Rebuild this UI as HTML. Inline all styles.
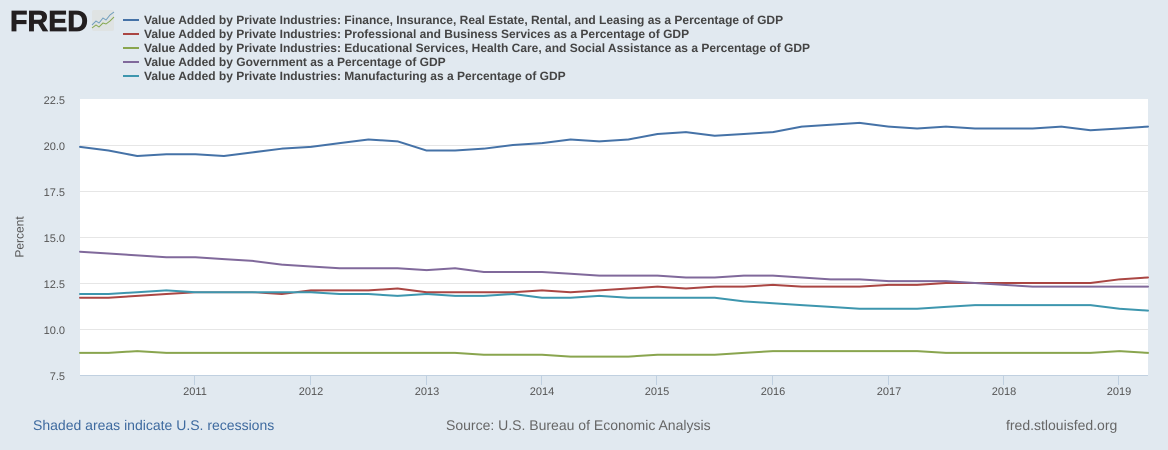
<!DOCTYPE html>
<html lang="en">
<head>
<meta charset="utf-8">
<title>FRED chart</title>
<style>
html,body{margin:0;padding:0;width:1168px;height:450px;overflow:hidden;background:#e1e9f0}
svg{display:block;font-family:"Liberation Sans",Arial,sans-serif;text-rendering:geometricPrecision}
</style>
</head>
<body>
<svg id="chart" xmlns="http://www.w3.org/2000/svg" width="1168" height="450" viewBox="0 0 1168 450">
  <rect x="0" y="0" width="1168" height="450" fill="#e1e9f0"/>
  <rect x="80" y="99" width="1068" height="277" fill="#ffffff"/>
  <g id="grid"></g>
  <g id="yticks"></g>
  <g id="xticks"></g>
  <g id="series"></g>

  <g>
    <text x="10" y="31" font-size="29" font-weight="700" fill="#231f20" stroke="#231f20" stroke-width="0.8" textLength="78" lengthAdjust="spacingAndGlyphs">FRED</text>
    <rect x="92" y="10" width="22" height="21" rx="2" fill="#dfe3e3"/>
    <polyline points="92,25 96,21 99,23 103,18 106,20 110,15 114,12" fill="none" stroke="#6f9dbd" stroke-width="1"/>
    <polyline points="92,28 96,25 99,27 103,23 106,24 110,21 114,17" fill="none" stroke="#86a851" stroke-width="1"/>
  </g>

  <g font-size="12" font-weight="700" fill="#444444">
    <g>
      <line x1="123" x2="139" y1="20" y2="20" stroke="#4572a7" stroke-width="2"/>
      <text x="144" y="24">Value Added by Private Industries: Finance, Insurance, Real Estate, Rental, and Leasing as a Percentage of GDP</text>
    </g>
    <g>
      <line x1="123" x2="139" y1="34" y2="34" stroke="#aa4643" stroke-width="2"/>
      <text x="144" y="38">Value Added by Private Industries: Professional and Business Services as a Percentage of GDP</text>
    </g>
    <g>
      <line x1="123" x2="139" y1="48" y2="48" stroke="#89a54e" stroke-width="2"/>
      <text x="144" y="52">Value Added by Private Industries: Educational Services, Health Care, and Social Assistance as a Percentage of GDP</text>
    </g>
    <g>
      <line x1="123" x2="139" y1="62" y2="62" stroke="#80699b" stroke-width="2"/>
      <text x="144" y="66">Value Added by Government as a Percentage of GDP</text>
    </g>
    <g>
      <line x1="123" x2="139" y1="76" y2="76" stroke="#3d96ae" stroke-width="2"/>
      <text x="144" y="80">Value Added by Private Industries: Manufacturing as a Percentage of GDP</text>
    </g>
  </g>

  <text transform="translate(23.5,237) rotate(-90)" text-anchor="middle" font-size="12" fill="#555555">Percent</text>
  <text x="33" y="430" font-size="14" fill="#3e6a9f">Shaded areas indicate U.S. recessions</text>
  <text x="446" y="430" font-size="14" fill="#666666">Source: U.S. Bureau of Economic Analysis</text>
  <text x="1006" y="430" font-size="14" fill="#666666">fred.stlouisfed.org</text>
</svg>
<script>
const startYear = 2010;
const quarterCount = 38;
const yTickValues = [7.5, 10, 12.5, 15, 17.5, 20, 22.5];
const yTickLabels = ["7.5", "10.0", "12.5", "15.0", "17.5", "20.0", "22.5"];
const xTickYears = [2011, 2012, 2013, 2014, 2015, 2016, 2017, 2018, 2019];

const financeValues = [19.9,19.7,19.4,19.5,19.5,19.4,19.6,19.8,19.9,20.1,20.3,20.2,19.7,19.7,19.8,20.0,20.1,20.3,20.2,20.3,20.6,20.7,20.5,20.6,20.7,21.0,21.1,21.2,21.0,20.9,21.0,20.9,20.9,20.9,21.0,20.8,20.9,21.0];
const professionalValues = [11.7,11.7,11.8,11.9,12.0,12.0,12.0,11.9,12.1,12.1,12.1,12.2,12.0,12.0,12.0,12.0,12.1,12.0,12.1,12.2,12.3,12.2,12.3,12.3,12.4,12.3,12.3,12.3,12.4,12.4,12.5,12.5,12.5,12.5,12.5,12.5,12.7,12.8];
const educationValues = [8.7,8.7,8.8,8.7,8.7,8.7,8.7,8.7,8.7,8.7,8.7,8.7,8.7,8.7,8.6,8.6,8.6,8.5,8.5,8.5,8.6,8.6,8.6,8.7,8.8,8.8,8.8,8.8,8.8,8.8,8.7,8.7,8.7,8.7,8.7,8.7,8.8,8.7];
const governmentValues = [14.2,14.1,14.0,13.9,13.9,13.8,13.7,13.5,13.4,13.3,13.3,13.3,13.2,13.3,13.1,13.1,13.1,13.0,12.9,12.9,12.9,12.8,12.8,12.9,12.9,12.8,12.7,12.7,12.6,12.6,12.6,12.5,12.4,12.3,12.3,12.3,12.3,12.3];
const manufacturingValues = [11.9,11.9,12.0,12.1,12.0,12.0,12.0,12.0,12.0,11.9,11.9,11.8,11.9,11.8,11.8,11.9,11.7,11.7,11.8,11.7,11.7,11.7,11.7,11.5,11.4,11.3,11.2,11.1,11.1,11.1,11.2,11.3,11.3,11.3,11.3,11.3,11.1,11.0];

const SVGNS = "http://www.w3.org/2000/svg";
const PLOT = { left: 80, right: 1148, y75: 375, y225: 99 };
const T0 = Date.UTC(startYear, 0, 1);
const T1 = Date.UTC(startYear, (quarterCount - 1) * 3, 1);

function xOfDate(ms) {
  return PLOT.left + (ms - T0) / (T1 - T0) * (PLOT.right - PLOT.left);
}
function xOfQuarter(i) {
  return xOfDate(Date.UTC(startYear, i * 3, 1));
}
function yOfValue(v) {
  return PLOT.y75 + (v - 7.5) / 15 * (PLOT.y225 - PLOT.y75);
}
function make(tag, attrs) {
  const el = document.createElementNS(SVGNS, tag);
  for (const k in attrs) el.setAttribute(k, attrs[k]);
  return el;
}

const gridGroup = document.getElementById("grid");
const yGroup = document.getElementById("yticks");
const xGroup = document.getElementById("xticks");
const seriesGroup = document.getElementById("series");

yTickValues.forEach(function (v, i) {
  const y = yOfValue(v);
  if (i > 0 && i < yTickValues.length - 1) {
    const line = make("line", { x1: PLOT.left, x2: PLOT.right, y1: y + 0.5, y2: y + 0.5, stroke: "#e6e6e6", "stroke-width": 1 });
    
    
    gridGroup.appendChild(line);
  }
  const label = make("text", { x: 65, y: y + 5, "text-anchor": "end", "font-size": 11, fill: "#555555" });
  
  
  label.textContent = yTickLabels[i];
  yGroup.appendChild(label);
});

const axisLine = make("line", { x1: PLOT.left, x2: PLOT.right, y1: 375.5, y2: 375.5, stroke: "#c0d0e0", "stroke-width": 1 });


xGroup.appendChild(axisLine);

xTickYears.forEach(function (year) {
  const x = Math.floor(xOfDate(Date.UTC(year, 0, 1)) - 0.6) + 0.5;
  const tick = make("line", { x1: x, x2: x, y1: 375.5, y2: 385, stroke: "#c0d0e0", "stroke-width": 1 });
  
  
  xGroup.appendChild(tick);
  const label = make("text", { x: x + 0.5, y: 395, "text-anchor": "middle", "font-size": 11, fill: "#555555" });
  
  
  label.textContent = String(year);
  xGroup.appendChild(label);
});

function drawSeries(values, color, name) {
  const d = values.map(function (v, i) {
    return xOfQuarter(i).toFixed(2) + "," + yOfValue(v).toFixed(2);
  }).join(" ");
  const line = make("polyline", { points: d, fill: "none", stroke: color, "stroke-width": 2, "stroke-linejoin": "round", "stroke-linecap": "round" });
  
  
  seriesGroup.appendChild(line);
}

drawSeries(financeValues, "#4572a7", "series-finance");
drawSeries(professionalValues, "#aa4643", "series-professional");
drawSeries(educationValues, "#89a54e", "series-education");
drawSeries(governmentValues, "#80699b", "series-government");
drawSeries(manufacturingValues, "#3d96ae", "series-manufacturing");
</script>
</body>
</html>
